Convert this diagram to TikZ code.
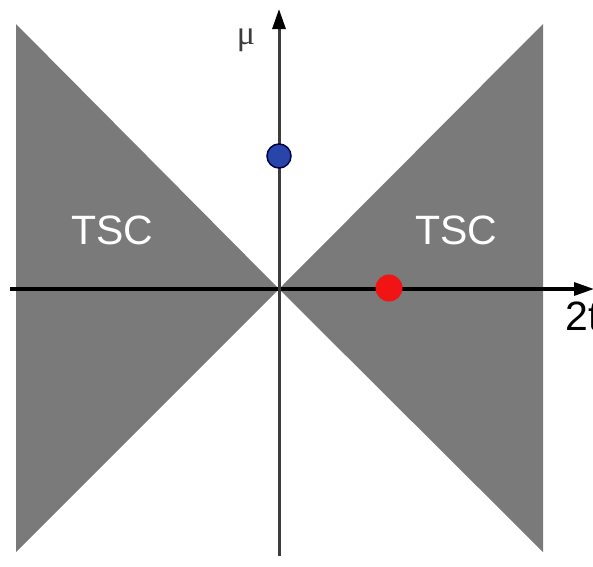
\documentclass[tikz,border=0pt]{standalone}
\usepackage{fontspec}
\setmainfont{Liberation Sans}
\newfontfamily\serifmu{Liberation Serif}
\usetikzlibrary{arrows.meta}
\definecolor{regiongray}{RGB}{122,122,122}
\definecolor{vaxis}{RGB}{60,60,60}
\definecolor{dotblue}{RGB}{40,70,170}
\definecolor{dotred}{RGB}{240,20,20}
\tikzset{
  region/.style={fill=regiongray, draw=none},
  axisline/.style={line width=3.2pt, -{Triangle[length=20pt,width=13pt,fill=black,color=black]}},
  lbl/.style={text=white, font=\fontsize{41}{41}\selectfont, inner sep=0pt},
  axlbl/.style={font=\fontsize{41}{41}\selectfont, inner sep=0pt},
  dot/.style={circle, inner sep=0pt, minimum size=#1}
}
\begin{document}
\begin{tikzpicture}[x=1pt,y=-1pt]
\useasboundingbox (0,0) rectangle (593,566);
% regions
\coordinate (O) at (279,289);
\path[region] (16,24) -- (O) -- (16,552) -- cycle;
\path[region] (543,24) -- (O) -- (543,552) -- cycle;
% labels
\node[lbl] (tscl) at (112,230) {TSC};
\node[lbl] (tscr) at (456,230) {TSC};
% axes
\coordinate (hstart) at (10,289);
\coordinate (hend) at (594,289);
\coordinate (vstart) at (279,556);
\coordinate (vend) at (279,9);
\draw[axisline, black] (hstart) -- (hend);
\draw[axisline, vaxis, line width=3pt] (vstart) -- (vend);
\node[axlbl, anchor=base west] (tlab) at (565,330) {2t};
\node[inner sep=0pt, text=vaxis, font=\serifmu\fontsize{34}{34}\selectfont] (mulab) at (246,40) {μ};
% dots
\node[dot=24pt, fill=dotblue, draw=black!70!blue, line width=1.5pt] (blue) at (279,156) {};
\node[dot=27pt, fill=dotred] (red) at (389,288) {};
\end{tikzpicture}
\end{document}
